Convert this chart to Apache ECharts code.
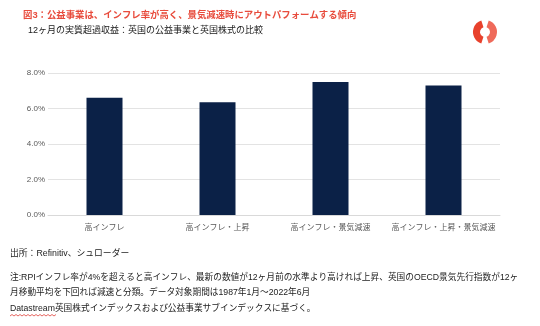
<!DOCTYPE html>
<html>
<head>
<meta charset="utf-8">
<script src="https://cdn.jsdelivr.net/npm/echarts@6/dist/echarts.min.js"></script>
<style>
html,body{margin:0;padding:0;background:#fff;}
#c{width:540px;height:326px;}
</style>
</head>
<body>
<div id="c"></div>
<script>
var categories = ['高インフレ', '高インフレ・上昇', '高インフレ・景気減速', '高インフレ・上昇・景気減速'];
var excessReturn = [6.6, 6.35, 7.5, 7.3];
var yTicks = [0, 2, 4, 6, 8];

var titleText = '図3：公益事業は、インフレ率が高く、景気減速時にアウトパフォームする傾向';
var subtitleText = '12ヶ月の実質超過収益：英国の公益事業と英国株式の比較';
var footerLines = [
  '出所：Refinitiv、シュローダー',
  '注:RPIインフレ率が4%を超えると高インフレ、最新の数値が12ヶ月前の水準より高ければ上昇、英国のOECD景気先行指数が12ヶ',
  '月移動平均を下回れば減速と分類。データ対象期間は1987年1月～2022年6月',
  'Datastream英国株式インデックスおよび公益事業サブインデックスに基づく。'
];

var FONT = "'Liberation Sans', 'Noto Sans CJK JP', sans-serif";
var chart = echarts.init(document.getElementById('c'), null, {renderer: 'canvas'});

chart.setOption({
  backgroundColor: '#ffffff',
  animation: false,
  grid: {left: 48, right: 40, top: 73, bottom: 111, containLabel: false},
  xAxis: {
    type: 'category',
    data: categories,
    axisTick: {show: false},
    axisLine: {show: true, lineStyle: {color: '#d9d9d9', width: 1}},
    axisLabel: {color: '#595959', fontSize: 8, margin: 9, fontFamily: FONT, interval: 0}
  },
  yAxis: {
    type: 'value',
    min: yTicks[0],
    max: yTicks[yTicks.length - 1],
    interval: yTicks[1] - yTicks[0],
    axisLine: {show: false},
    axisTick: {show: false},
    splitLine: {lineStyle: {color: '#e3e3e3', width: 1}},
    axisLabel: {
      color: '#595959', fontSize: 8, margin: 3, fontFamily: FONT,
      formatter: function (v) { return v.toFixed(1) + '%'; }
    }
  },
  series: [{
    type: 'bar',
    data: excessReturn,
    barWidth: 36,
    itemStyle: {color: '#0b2147'}
  }],
  graphic: [
    {type: 'text', left: 23, top: 11, style: {text: titleText, fill: '#e84c3d', font: 'bold 9.4px ' + FONT}},
    {type: 'text', left: 28, top: 26, style: {text: subtitleText, fill: '#1a1a1a', font: '9px ' + FONT}},
    {type: 'arc', shape: {cx: 485, cy: 32, r: 8.5, startAngle: Math.PI * 0.6, endAngle: Math.PI * 1.4, clockwise: true},
      style: {stroke: '#e8412c', lineWidth: 7, fill: null}},
    {type: 'arc', shape: {cx: 485, cy: 32, r: 8.5, startAngle: Math.PI * 1.6, endAngle: Math.PI * 2.4, clockwise: true},
      style: {stroke: '#ef6a5a', lineWidth: 7, fill: null}},
    {type: 'text', left: 10, top: 249, style: {text: footerLines[0], fill: '#222', font: '8.8px ' + FONT}},
    {type: 'text', left: 10, top: 273, style: {text: footerLines[1], fill: '#222', font: '8.7px ' + FONT}},
    {type: 'text', left: 10, top: 288, style: {text: footerLines[2], fill: '#222', font: '8.7px ' + FONT}},
    {type: 'text', left: 10, top: 304, style: {text: footerLines[3], fill: '#222', font: '8.7px ' + FONT}},
    {type: 'polyline', shape: {points: [[10,316],[12,314.5],[14,316],[16,314.5],[18,316],[20,314.5],[22,316],[24,314.5],[26,316],[28,314.5],[30,316],[32,314.5],[34,316],[36,314.5],[38,316],[40,314.5],[42,316],[44,314.5],[46,316],[48,314.5],[50,316],[52,314.5],[54,316],[56,314.5]]},
      style: {stroke: '#e0403a', lineWidth: 0.8, fill: null}}
  ]
});
</script>
</body>
</html>
